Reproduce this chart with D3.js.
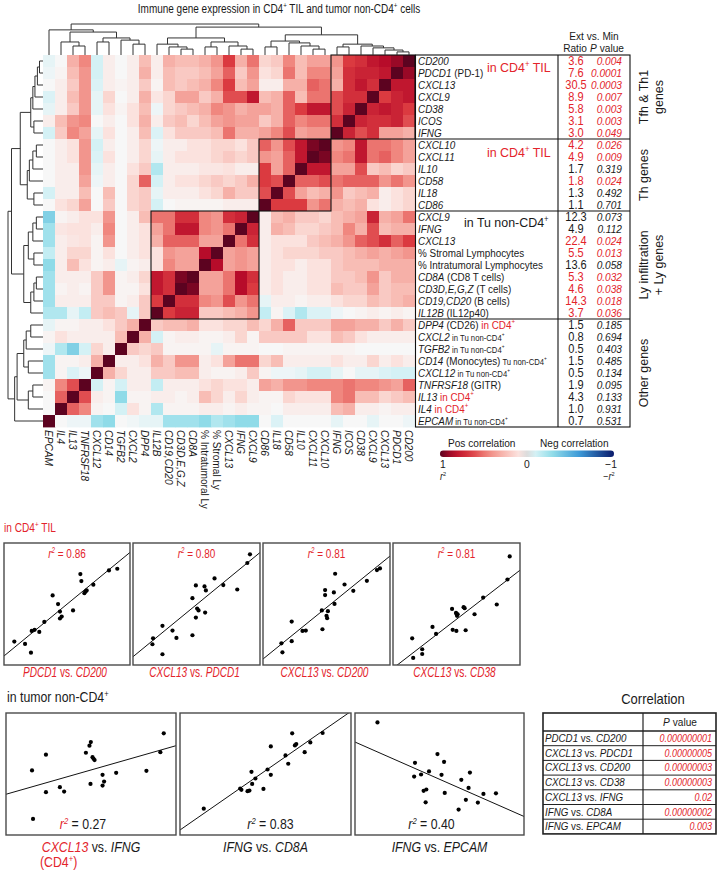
<!DOCTYPE html>
<html><head><meta charset="utf-8">
<script src="https://cdn.jsdelivr.net/npm/d3@7"></script>
<style>body{margin:0;background:#fff} svg{display:block;font-family:"Liberation Sans",Arial,Helvetica,sans-serif} text{white-space:pre}</style>
</head><body><svg id="c" width="722" height="875"></svg>
<script>
// ---------------- DATA ----------------
const rowLabels = [
 "i:CD200","i:PDCD1| (PD-1)","i:CXCL13","i:CXCL9","i:CD38","i:ICOS","i:IFNG",
 "i:CXCL10","i:CXCL11","i:IL10","i:CD58","i:IL18","i:CD86",
 "i:CXCL9","i:IFNG","i:CXCL13","% Stromal Lymphocytes","% Intratumoral Lymphocytes",
 "i:CD8A| (CD8 T cells)","i:CD3D,E,G,Z| (T cells)","i:CD19,CD20| (B cells)","i:IL12B| (IL12p40)",
 "i:DPP4| (CD26)|r: in CD4|ru:+","i:CXCL2|s: in Tu non-CD4|su:+","i:TGFB2|s: in Tu non-CD4|su:+",
 "i:CD14| (Monocytes)|s: Tu non-CD4|su:+","i:CXCL12|s: in Tu non-CD4|su:+","i:TNFRSF18| (GITR)",
 "i:IL13|r: in CD4|ru:+","i:IL4|r: in CD4|ru:+","i:EPCAM|s: in Tu non-CD4|su:+"
];
const ratios = ["3.6","7.6","30.5","8.9","5.8","3.1","3.0","4.2","4.9","1.7","1.8","1.3","1.1",
 "12.3","4.9","22.4","5.5","13.6","5.3","4.6","14.3","3.7","1.5","0.8","0.5","1.5","0.5","1.9","4.3","1.0","0.7"];
const pValues = ["0.004","0.0001","0.0003","0.007","0.003","0.003","0.049","0.026","0.009","0.319","0.024","0.492","0.701",
 "0.073","0.112","0.024","0.013","0.058","0.032","0.038","0.018","0.036","0.185","0.694","0.403","0.485","0.134","0.095","0.133","0.931","0.531"];
const colLabels = ["i:EPCAM","i:IL4","i:IL13","i:TNFRSF18","i:CXCL12","i:CD14","i:TGFB2","i:CXCL2","i:DPP4","i:IL12B",
 "i:CD19,CD20","i:CD3D,E,G,Z","i:CD8A","% Intratumoral Ly","% Stromal Ly","i:CXCL13","i:IFNG","i:CXCL9",
 "i:CD86","i:IL18","i:CD58","i:IL10","i:CXCL11","i:CXCL10","i:IFNG","i:ICOS","i:CD38","i:CXCL9","i:CXCL13","i:PDCD1","i:CD200"];
const groups = [
 {lines:["Tfh & Th1","genes"], r0:0, r1:7, boxed:true},
 {lines:["Th genes"], r0:7, r1:13, boxed:true},
 {lines:["Ly infiltration","+ Ly genes"], r0:13, r1:22, boxed:true},
 {lines:["Other genes"], r0:22, r1:31, boxed:false}
];
const groupNotes = ["r:in CD4|ru:+|r: TIL","r:in CD4|ru:+|r: TIL","in Tu non-CD4|u:+"];

// correlation matrix: rows in displayed order, columns in column order
const corr = [
 [-0.05,0,0.3,0.45,-0.1,0.05,0,0.05,0.25,0.05,0.3,0.25,0.25,0.3,0.4,0.65,0.3,0.5,0.15,0.2,0.45,0.25,0.35,0.35,0.4,0.65,0.7,0.8,0.85,0.9,1],
 [-0.03,0.02,0.25,0.4,-0.1,0.05,0,0.05,0.3,0.05,0.25,0.2,0.2,0.25,0.35,0.55,0.2,0.4,0.1,0.15,0.5,0.25,0.45,0.45,0.35,0.7,0.75,0.75,0.8,1,0.9],
 [0,0.05,0.2,0.4,-0.08,0.05,0.02,0.05,0.2,0.02,0.25,0.2,0.25,0.3,0.45,0.65,0.25,0.35,0.05,0.05,0.3,0.3,0.55,0.5,0.3,0.7,0.8,0.7,1,0.8,0.8],
 [-0.08,0.05,0.25,0.4,-0.05,0.15,0,0.05,0.3,0.08,0.15,0.35,0.35,0.2,0.3,0.6,0.6,0.8,0.25,0.3,0.55,0.25,0.5,0.5,0.6,0.7,0.7,1,0.65,0.75,0.8],
 [-0.05,0.05,0.2,0.4,-0.05,0.1,0.02,0.1,0.25,-0.03,0.15,0.2,0.25,0.3,0.45,0.4,0.3,0.35,0.35,0.3,0.55,0.65,0.8,0.8,0.6,0.75,1,0.75,0.8,0.75,0.65],
 [0.05,0.25,0.4,0.45,0,0.05,0,0.1,0.3,0.05,0.2,0.25,0.15,0.25,0.35,0.4,0.35,0.35,0.2,0.3,0.55,0.45,0.5,0.5,0.7,1,0.75,0.7,0.7,0.75,0.6],
 [-0.1,0.2,0.45,0.35,-0.05,0.1,0,0.05,0.25,-0.08,0.1,0.2,0.2,0.2,0.25,0.5,0.3,0.3,0.35,0.45,0.6,0.35,0.4,0.4,1,0.75,0.6,0.7,0.35,0.35,0.3],
 [0,0.05,0.1,0.4,-0.1,0.05,0,0.05,0.15,-0.03,0.05,0.05,0.1,0.1,0.15,0.15,0.1,0.2,0.55,0.4,0.6,0.8,0.95,1,0.4,0.45,0.8,0.5,0.5,0.45,0.35],
 [0,0.05,0.1,0.4,-0.08,0.1,0,0.05,0.15,-0.05,0.05,0.1,0.1,0.1,0.15,0.2,0.15,0.2,0.4,0.35,0.55,0.8,1,0.95,0.45,0.5,0.8,0.5,0.55,0.45,0.35],
 [0,0.05,0.05,0.4,-0.05,0.05,0,0.1,0.2,-0.2,0.05,0.05,0.05,0.08,0.08,0.1,0.05,0.05,0.65,0.35,0.55,1,0.8,0.8,0.35,0.35,0.6,0.2,0.25,0.15,0.2],
 [0,0.05,0.05,0.35,-0.03,0.05,0,0.15,0.55,-0.1,0.05,0.1,0.1,0.15,0.2,0.15,0.2,0.3,0.65,0.6,1,0.55,0.55,0.6,0.5,0.55,0.55,0.55,0.4,0.5,0.4],
 [-0.1,0.05,0.05,0.25,0,0.25,0,0.15,0.2,-0.05,0.05,0.05,0.05,0.1,0.15,0.3,0.2,0.2,0.6,1,0.6,0.35,0.25,0.3,0.4,0.2,0.25,0.3,0.05,0.1,0.15],
 [0,0.1,0.15,0.35,0,0.2,0,0.15,0.2,-0.1,0,0.02,0.02,0.02,0.02,0.05,0.05,0.05,1,0.65,0.65,0.65,0.4,0.5,0.3,0.25,0.3,0.1,0.05,0.1,0.15],
 [-0.35,0.02,0.05,0.1,0.1,0.4,0,0.05,0.25,0.5,0.5,0.7,0.7,0.45,0.4,0.7,0.75,1,0.05,0.25,0.3,0.2,0.2,0.15,0.25,0.3,0.35,0.75,0.3,0.35,0.5],
 [-0.25,0.08,0.1,0.1,0.05,0.45,0,0.05,0.1,0.35,0.5,0.8,0.8,0.45,0.4,0.5,1,0.75,0.05,0.3,0.25,0.15,0.15,0.2,0.25,0.45,0.3,0.6,0.25,0.3,0.3],
 [-0.25,0.05,0.08,0.1,0.02,0.4,0,0.05,0.1,0.3,0.55,0.55,0.55,0.35,0.35,1,0.5,0.7,0.05,0.1,0.1,0.1,0.2,0.25,0.3,0.4,0.55,0.6,0.7,0.55,0.65],
 [-0.15,0.05,0.15,0.15,0.02,0.1,0,0.05,0.1,0.1,0.4,0.35,0.35,0.85,1,0.35,0.4,0.35,0.05,0.1,0.15,0.15,0.15,0.2,0.2,0.25,0.3,0.35,0.3,0.35,0.4],
 [-0.3,0.05,0.25,0.1,0.02,0.05,-0.05,0.02,0.05,0.1,0.45,0.35,0.35,1,0.85,0.35,0.4,0.35,0.05,0.1,0.1,0.05,0.1,0.1,0.2,0.25,0.25,0.25,0.3,0.3,0.3],
 [-0.25,0.05,0.05,0.05,0.2,0.4,0.02,0.05,0.15,0.8,0.7,0.95,1,0.35,0.35,0.5,0.85,0.7,0.05,0.1,0.05,0.05,0.1,0.1,0.2,0.2,0.25,0.4,0.2,0.3,0.3],
 [-0.25,0.02,0.05,0.02,0.2,0.4,0.02,0.02,0.1,0.8,0.7,1,0.95,0.35,0.35,0.5,0.85,0.65,0.05,0.1,0.05,0.05,0.1,0.1,0.25,0.2,0.2,0.35,0.2,0.25,0.25],
 [-0.25,0.05,0.05,0.05,0.2,0.2,0.02,0.05,0.2,0.65,1,0.7,0.7,0.45,0.4,0.6,0.4,0.5,-0.05,0.05,0.05,0.02,0.05,0.05,0.1,0.15,0.15,0.25,0.2,0.25,0.3],
 [-0.2,-0.2,-0.05,-0.15,0.2,0.25,0.2,-0.05,0.2,1,0.65,0.75,0.75,0.2,0.2,0.25,0.3,0.4,-0.15,0.02,-0.08,-0.2,-0.08,-0.08,-0.03,0,0.02,0.05,0.02,0.05,0.02],
 [-0.05,0.02,0.02,0.05,0.05,0.1,0.2,0.3,1,0.2,0.25,0.25,0.3,0.1,0.1,0.15,0.15,0.25,0.15,0.3,0.55,0.2,0.2,0.2,0.35,0.35,0.3,0.3,0.2,0.3,0.2],
 [0.02,0.1,0.05,0.05,0.05,0.05,0.25,1,0.3,-0.1,0.02,0.05,0.05,0.02,0.02,0.05,0.15,0.02,0.2,0.2,0.2,0.2,0.1,0.1,0.25,0.2,0.1,0.05,0.05,0.05,0.05],
 [-0.03,-0.2,-0.35,-0.1,0.15,0.05,1,0.2,0.15,0.2,0.02,0.02,0.02,0.02,-0.05,0.02,0.02,0.02,0,0,0.02,0.02,0.02,0.02,0.02,0.02,0,0,0,0,0],
 [-0.25,0.02,0.02,0.05,0.3,1,0.05,0.05,0.1,0.3,0.2,0.4,0.4,0.05,0.1,0.35,0.5,0.5,0.15,0.25,0.05,0.05,0.05,0.05,0.1,0.05,0.05,0.15,0.05,0.1,0.05],
 [-0.25,0.02,-0.08,-0.03,1,0.3,0.15,0.05,0.05,0.2,0.2,0.25,0.25,0.05,0.02,0.02,0.05,0.2,0.02,-0.03,-0.03,-0.05,-0.1,-0.1,-0.05,0,-0.05,-0.05,-0.08,-0.1,-0.1],
 [0.02,0.45,0.6,1,-0.1,0.02,-0.1,0.05,0.05,-0.15,0.05,0.05,0.05,0.1,0.15,0.1,0.1,0.05,0.35,0.3,0.4,0.4,0.45,0.45,0.45,0.5,0.45,0.45,0.4,0.35,0.55],
 [0,0.55,1,0.6,0.05,0.02,-0.3,0.02,0.02,0.05,0.05,0.02,0.05,0.25,0.15,0.05,0.15,0.05,0.02,0.02,0.15,0.1,0.1,0.1,0.45,0.5,0.25,0.25,0.15,0.2,0.25],
 [0,1,0.55,0.45,0.02,0,-0.1,0.1,0.02,-0.2,0.02,0.02,0.02,0.05,0.05,0.02,0.05,0.02,0.02,0,0.05,0.05,0.05,0.05,0.25,0.3,0.05,0.05,0.02,0.05,0.05],
 [1,0,-0.03,-0.03,-0.25,-0.3,0,-0.02,-0.05,-0.05,-0.25,-0.25,-0.25,-0.3,-0.2,-0.25,-0.3,-0.3,0,-0.08,0,0,0,0,-0.05,0,0,-0.05,0,0,-0.03]
];

// hierarchical clustering tree: [height, left, right], leaves = column index
const tree = [1.0,
  [0.81, 0, [0.74, [0.42, 1, [0.29, 2, 3]], [0.55, [0.42, 4, 5], [0.48, 6, [0.35, 7, 8]]]]],
  [0.9,
    [0.55, [0.35, 9, [0.26, 10, [0.19, 11, 12]]], [0.42, [0.26, 13, 14], [0.29, 15, [0.19, 16, 17]]]],
    [0.65, [0.45, [0.26, 18, 19], [0.39, 20, [0.29, 21, [0.19, 22, 23]]]],
           [0.35, [0.26, 24, 25], [0.29, 26, [0.23, 27, [0.16, 28, [0.1, 29, 30]]]]]]]
];

// scatter panels (x, y in % of axis range)
const sPDCD1vsCD200 = [[8.2,19.2],[16.7,17.3],[21.4,10.1],[22.0,27.9],[24.3,28.8],[28.0,27.1],[32.0,35.3],[38.6,57.0],[42.9,49.9],[44.4,43.8],[44.4,38.1],[45.8,39.7],[54.8,44.7],[60.6,74.5],[61.4,68.8],[63.8,58.9],[64.8,60.3],[65.6,61.1],[70.9,65.8],[83.3,77.5],[89.9,78.9]];
const sCXCL13vsPDCD1 = [[15.8,21.9],[15.3,17.0],[23.2,32.1],[23.2,8.8],[31.1,28.2],[34.2,22.2],[46.8,54.8],[46.8,24.4],[49.5,65.2],[49.5,38.9],[50.5,46.3],[51.6,44.7],[56.3,64.4],[57.4,61.1],[56.8,43.0],[64.2,71.0],[71.1,65.5],[82.1,61.9],[90.0,83.6],[92.1,90.7]];
const sCXCL13vsCD200 = [[14.5,17.8],[15.3,10.4],[22.6,35.6],[22.6,19.5],[31.1,27.9],[33.7,28.2],[46.3,44.7],[46.8,29.3],[48.9,57.3],[48.9,61.4],[50.0,40.3],[50.5,38.4],[51.1,44.1],[55.8,59.5],[56.8,74.8],[56.3,50.1],[64.2,66.0],[71.1,60.8],[81.8,69.0],[89.7,77.8],[92.1,79.2]];
const sCXCL13vsCD38 = [[15.1,21.9],[15.9,5.8],[23.0,12.9],[23.0,9.0],[31.1,31.2],[33.9,25.5],[46.5,46.0],[47.0,28.8],[49.6,42.7],[50.1,41.9],[50.4,40.3],[50.9,41.6],[49.9,27.9],[55.6,47.4],[56.4,46.6],[57.2,28.5],[64.2,41.6],[71.0,55.3],[81.7,49.6],[90.1,70.1],[91.9,89.0]];
const sCXCL13vsIFNG = [[15.3,52.9],[15.9,13.2],[23.5,65.8],[23.5,35.1],[31.7,39.2],[34.2,35.6],[47.0,67.4],[49.1,73.2],[49.9,76.2],[49.7,41.9],[50.9,63.8],[51.5,62.5],[52.1,61.4],[56.8,49.3],[57.7,43.8],[56.8,40.5],[64.8,51.0],[82.6,52.6],[90.8,67.9],[92.8,83.3]];
const sIFNGvsCD8A = [[13.9,21.6],[35.2,38.1],[35.9,37.0],[39.5,35.9],[40.6,36.4],[42.2,41.9],[41.8,51.8],[44.1,46.3],[48.8,37.8],[51.2,53.7],[53.1,49.3],[53.1,72.6],[61.7,65.2],[63.3,58.4],[65.6,83.3],[67.2,73.4],[68.0,74.5],[72.9,67.9],[76.2,75.9],[83.4,83.6]];
const sIFNGvsEPCAM = [[13.3,92.3],[35.0,47.9],[35.5,59.2],[39.1,49.6],[40.6,36.2],[42.2,37.3],[41.8,26.8],[43.8,52.1],[48.8,66.3],[51.2,49.3],[52.7,60.0],[53.1,34.5],[61.3,20.8],[62.9,45.2],[65.6,28.8],[67.2,38.6],[68.0,51.2],[72.7,26.6],[76.0,33.7],[83.4,34.2]];
const fitIntercepts = [7.4, 6.8, 4.9, -2.7, 33.4, 4.1, 76.2];
const fitSlopes = [0.849, 0.854, 0.844, 0.804, 0.398, 0.973, -0.61];
const r2Values = ["0.86","0.80","0.81","0.81","0.27","0.83","0.40"];
const captionsTop = ["ri:PDCD1|r: vs. |ri:CD200","ri:CXCL13|r: vs. |ri:PDCD1","ri:CXCL13|r: vs. |ri:CD200","ri:CXCL13|r: vs. |ri:CD38"];
const captionsBottom = ["ri:CXCL13| vs. |i:IFNG","i:IFNG| vs. |i:CD8A","i:IFNG| vs. |i:EPCAM"];

const corrPairs = ["i:PDCD1| vs. |i:CD200","i:CXCL13| vs. |i:PDCD1","i:CXCL13| vs. |i:CD200","i:CXCL13| vs. |i:CD38","i:CXCL13| vs. |i:IFNG","i:IFNG| vs. |i:CD8A","i:IFNG| vs. |i:EPCAM"];
const corrP = ["0.000000001","0.00000005","0.00000003","0.00000003","0.02","0.00000002","0.003"];

// ---------------- DRAWING ----------------
const RED = "#e3242b", INK = "#1a1a1a";
const svg = d3.select("#c");

function rich(parent, x, y, markup, o = {}) {
  const size = o.size || 11, cond = o.cond || 0.9, rot = o.rot || 0;
  const t = parent.append("text")
    .attr("transform", `translate(${x},${y}) rotate(${rot}) scale(${cond},1)`)
    .attr("font-size", size).attr("text-anchor", o.anchor || "start")
    .attr("fill", o.fill || INK);
  if (o.italic) t.attr("font-style", "italic");
  let shifted = false;
  markup.split("|").forEach(seg => {
    let flags = "", txt = seg;
    const m = seg.match(/^([irsu]+):(.*)$/);
    if (m) { flags = m[1]; txt = m[2]; }
    const ts = t.append("tspan").text(txt);
    if (flags.includes("i")) ts.attr("font-style", "italic");
    if (flags.includes("r")) ts.attr("fill", RED);
    let fs = size;
    if (flags.includes("s")) fs = size * 0.78;
    if (flags.includes("u")) fs = fs * 0.62;
    if (fs !== size) ts.attr("font-size", fs);
    if (flags.includes("u") && !shifted) { ts.attr("dy", -size * 0.38); shifted = true; }
    else if (!flags.includes("u") && shifted) { ts.attr("dy", size * 0.38); shifted = false; }
  });
  return t;
}

const N = corr.length, cell = 12, hx0 = 43, hy0 = 55;
const xBand = d3.scaleBand().domain(d3.range(N)).range([hx0, hx0 + N * cell]);
const yBand = d3.scaleBand().domain(d3.range(N)).range([hy0, hy0 + N * cell]);
const color = d3.scaleLinear()
  .domain([-1, -0.6, -0.3, -0.12, 0, 0.1, 0.25, 0.45, 0.65, 0.85, 1])
  .range(["#0a1a6b", "#3d9ad8", "#8fdbe8", "#cdf0f5", "#f7f7f7", "#fbe2de", "#f8bdb5", "#f0877f", "#db3a40", "#b70c2a", "#5c0320"])
  .clamp(true);

// title
rich(svg, 279, 13, "Immune gene expression in CD4|u:+| TIL and tumor non-CD4|u:+| cells", {size: 12.5, cond: 0.8, anchor: "middle"});

// heatmap
const hm = svg.append("g");
corr.forEach((row, r) => row.forEach((v, c) => {
  hm.append("rect").attr("x", xBand(c)).attr("y", yBand(r))
    .attr("width", xBand.bandwidth() + 0.4).attr("height", yBand.bandwidth() + 0.4)
    .attr("fill", color(v));
}));
groups.filter(g => g.boxed).forEach(g => {
  const c0 = N - g.r1, c1 = N - g.r0;
  svg.append("rect").attr("x", xBand(c0)).attr("y", yBand(g.r0))
    .attr("width", (c1 - c0) * cell).attr("height", (g.r1 - g.r0) * cell)
    .attr("fill", "none").attr("stroke", "#111").attr("stroke-width", 1.1);
});

// column labels
colLabels.forEach((lab, c) => {
  rich(svg, xBand(c) + cell / 2 - 4, hy0 + N * cell + 3, lab, {size: 11.5, cond: 0.88, rot: 90});
});

// dendrograms
function layout(node) {
  if (typeof node === "number") return {pos: node, h: 0};
  const A = layout(node[1]), B = layout(node[2]);
  return {pos: (A.pos + B.pos) / 2, h: node[0], kids: [A, B]};
}
const root = layout(tree);
const dTop = svg.append("g").attr("fill", "none").attr("stroke", "#333").attr("stroke-width", 1);
const dLeft = svg.append("g").attr("fill", "none").attr("stroke", "#333").attr("stroke-width", 1);
const topH = d3.scaleLinear().domain([0, 1]).range([hy0, 24]);
const leftH = d3.scaleLinear().domain([0, 1]).range([hx0, 8]);
const colPos = i => hx0 + (i + 0.5) * cell;
const rowPos = i => hy0 + (N - 1 - i + 0.5) * cell;
(function walk(n) {
  if (!n.kids) return;
  const [A, B] = n.kids;
  dTop.append("path").attr("d",
    `M${colPos(A.pos)},${topH(A.h)}V${topH(n.h)}H${colPos(B.pos)}V${topH(B.h)}`);
  dLeft.append("path").attr("d",
    `M${leftH(A.h)},${rowPos(A.pos)}H${leftH(n.h)}V${rowPos(B.pos)}H${leftH(B.h)}`);
  walk(A); walk(B);
})(root);

// right table
const tL = hx0 + N * cell + 0.5, tS = 558, tR = 630, tB = hy0 + N * cell;
const tbl = svg.append("g").attr("stroke", "#111").attr("stroke-width", 1.1).attr("fill", "none");
tbl.append("rect").attr("x", tL).attr("y", hy0).attr("width", tR - tL).attr("height", tB - hy0);
tbl.append("line").attr("x1", tS).attr("x2", tS).attr("y1", hy0).attr("y2", tB);
groups.slice(1).forEach(g => tbl.append("line").attr("x1", tL).attr("x2", tR).attr("y1", yBand(g.r0)).attr("y2", yBand(g.r0)));

rich(svg, 594, 40, "Ext vs. Min", {size: 11.5, cond: 0.88, anchor: "middle"});
rich(svg, 575, 51.5, "Ratio", {size: 11.5, cond: 0.88, anchor: "middle"});
rich(svg, 607, 51.5, "i:P| value", {size: 11.5, cond: 0.88, anchor: "middle"});

rowLabels.forEach((lab, r) => {
  const yb = yBand(r) + cell / 2 + 3.5;
  rich(svg, 418, yb, lab, {size: 11.5, cond: 0.86});
  const sig = +pValues[r] < 0.05;
  rich(svg, 576, yb, ratios[r], {size: 12, cond: 0.92, anchor: "middle", fill: sig ? RED : INK});
  rich(svg, 622, yb, "i:" + pValues[r], {size: 11.5, cond: 0.88, anchor: "end", fill: sig ? RED : INK});
});
groupNotes.forEach((note, i) => {
  const pos = [[487, 72], [487, 157], [464, 227]][i];
  rich(svg, pos[0], pos[1], note, {size: 13.5, cond: 0.92});
});
groups.forEach(g => {
  const yc = (yBand(g.r0) + yBand(g.r1 - 1) + cell) / 2;
  g.lines.forEach((ln, k) => {
    rich(svg, 648 + k * 15, yc, ln, {size: 13.5, cond: 0.92, rot: -90, anchor: "middle"});
  });
});

// legend
const grad = svg.append("defs").append("linearGradient").attr("id", "lg").attr("x1", "0%").attr("x2", "100%");
d3.range(0, 21).forEach(k => {
  const v = 1 - k / 10;
  grad.append("stop").attr("offset", (k / 20 * 100) + "%").attr("stop-color", v === 0 ? "#dcdcdc" : color(v));
});
svg.append("rect").attr("x", 440).attr("y", 450.5).attr("width", 174).attr("height", 6.5).attr("rx", 3.2).attr("fill", "url(#lg)");
rich(svg, 448, 447, "Pos correlation", {size: 11.5, cond: 0.88});
rich(svg, 540, 447, "Neg correlation", {size: 11.5, cond: 0.88});
rich(svg, 443, 468, "1", {size: 11.5, cond: 0.9, anchor: "middle"});
rich(svg, 527, 468, "0", {size: 11.5, cond: 0.9, anchor: "middle"});
rich(svg, 611, 468, "\u22121", {size: 11.5, cond: 0.9, anchor: "middle"});
rich(svg, 443, 480, "i:r|u:2", {size: 10, cond: 0.9, anchor: "middle"});
rich(svg, 609, 480, "\u2212|i:r|u:2", {size: 10, cond: 0.9, anchor: "middle"});

// scatter panels
const panelData = [sPDCD1vsCD200, sCXCL13vsPDCD1, sCXCL13vsCD200, sCXCL13vsCD38, sCXCL13vsIFNG, sIFNGvsCD8A, sIFNGvsEPCAM];
const panels = [
  {x: 4, y: 543, w: 126, h: 122}, {x: 133, y: 543, w: 127, h: 122}, {x: 263, y: 543, w: 127, h: 122}, {x: 393, y: 543, w: 127, h: 122},
  {x: 6, y: 713, w: 170, h: 122}, {x: 180, y: 713, w: 171, h: 122}, {x: 355, y: 713, w: 169, h: 122}
];
const defs = svg.select("defs");
panels.forEach((p, i) => {
  const sx = d3.scaleLinear().domain([0, 100]).range([p.x, p.x + p.w]);
  const sy = d3.scaleLinear().domain([0, 100]).range([p.y + p.h, p.y]);
  defs.append("clipPath").attr("id", "cp" + i).append("rect").attr("x", p.x).attr("y", p.y).attr("width", p.w).attr("height", p.h);
  const g = svg.append("g");
  g.append("line").attr("clip-path", `url(#cp${i})`)
    .attr("x1", sx(0)).attr("y1", sy(fitIntercepts[i]))
    .attr("x2", sx(100)).attr("y2", sy(fitIntercepts[i] + fitSlopes[i] * 100))
    .attr("stroke", "#111").attr("stroke-width", 1);
  g.selectAll("circle").data(panelData[i]).join("circle")
    .attr("cx", d => sx(d[0])).attr("cy", d => sy(d[1])).attr("r", 2.1).attr("fill", "#000");
  g.append("rect").attr("x", p.x).attr("y", p.y).attr("width", p.w).attr("height", p.h)
    .attr("fill", "none").attr("stroke", "#4a4a4a").attr("stroke-width", 1.4);
  const cx = p.x + p.w / 2;
  if (i < 4) {
    rich(svg, cx, p.y + 15, "ri:r|riu:2|r: = " + r2Values[i], {size: 13.5, cond: 0.74, anchor: "middle"});
    rich(svg, cx - 2, 677, captionsTop[i], {size: 14, cond: 0.72, anchor: "middle"});
  } else {
    const lab = (i === 4 ? "ri:r|riu:2" : "i:r|iu:2") + "| = " + r2Values[i];
    rich(svg, cx + (i === 5 ? 5 : -8), 829, lab, {size: 14, cond: 0.88, anchor: "middle"});
    rich(svg, cx, 852, captionsBottom[i - 4], {size: 14, cond: 0.88, anchor: "middle"});
  }
});
rich(svg, 40, 867, "r:(CD4|ru:+|r:)", {size: 14, cond: 0.88});
rich(svg, 4, 532, "r:in CD4|ru:+|r: TIL", {size: 13, cond: 0.78});
rich(svg, 7, 702, "in tumor non-CD4|u:+", {size: 14, cond: 0.88});

// correlation table
rich(svg, 653, 704, "Correlation", {size: 14, cond: 0.93, anchor: "middle"});
const cx0 = 543, cx1 = 716, csep = 643, cy0 = 713, hdrH = 18, rowH = 14.7;
const ct = svg.append("g").attr("stroke", "#222").attr("fill", "none");
ct.append("rect").attr("x", cx0).attr("y", cy0).attr("width", cx1 - cx0).attr("height", hdrH + corrPairs.length * rowH).attr("stroke-width", 1.6);
ct.append("line").attr("x1", csep).attr("x2", csep).attr("y1", cy0).attr("y2", cy0 + hdrH + corrPairs.length * rowH).attr("stroke-width", 1.2);
corrPairs.forEach((lab, k) => {
  const yT = cy0 + hdrH + k * rowH;
  ct.append("line").attr("x1", cx0).attr("x2", cx1).attr("y1", yT).attr("y2", yT).attr("stroke-width", k === 0 ? 1.4 : 1);
  rich(svg, cx0 + 2, yT + 11, lab, {size: 11.5, cond: 0.85});
  rich(svg, cx1 - 4, yT + 11, "i:" + corrP[k], {size: 11, cond: 0.82, anchor: "end", fill: RED});
});
rich(svg, 680, cy0 + 13, "i:P| value", {size: 11.5, cond: 0.88, anchor: "middle"});
</script></body></html>
